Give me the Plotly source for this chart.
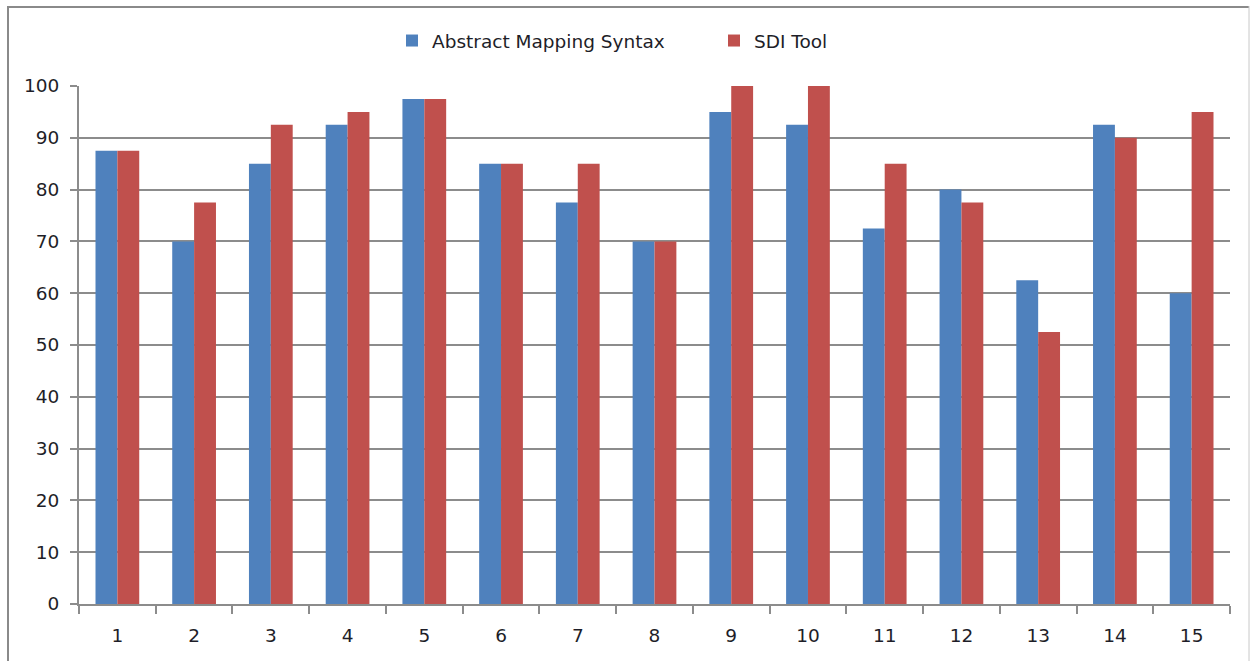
import plotly.graph_objects as go

categories = [str(i) for i in range(1, 16)]
abstract_mapping = [87.5, 70, 85, 92.5, 97.5, 85, 77.5, 70, 95, 92.5, 72.5, 80, 62.5, 92.5, 60]
sdi_tool = [87.5, 77.5, 92.5, 95, 97.5, 85, 85, 70, 100, 100, 85, 77.5, 52.5, 90, 95]
y_ticks = list(range(0, 101, 10))

FONT = "DejaVu Sans, Verdana, sans-serif"
FSIZE = 18.5
GRID = "#8c8c8c"
TEXT = "#1e1e28"

fig = go.Figure()
fig.add_trace(go.Bar(x=categories, y=abstract_mapping, name="Abstract Mapping Syntax",
                     marker=dict(color="#4F81BD", line=dict(width=0))))
fig.add_trace(go.Bar(x=categories, y=sdi_tool, name="SDI Tool",
                     marker=dict(color="#C0504D", line=dict(width=0))))

W, H = 1256, 661
L, R, T, B = 79, 26, 86, 57
pw, ph = W - L - R, H - T - B

def px_x(p):
    return (p - L) / pw

def px_y(p):
    return 1 - (p - T) / ph

fig.update_layout(
    width=W, height=H,
    margin=dict(l=L, r=R, t=T, b=B),
    paper_bgcolor="white", plot_bgcolor="white",
    barmode="group", bargap=0.43, bargroupgap=0,
    font=dict(family=FONT, size=FSIZE, color=TEXT),
    showlegend=True,
    legend=dict(orientation="h", x=px_x(392), xanchor="left", y=px_y(41), yanchor="middle",
                font=dict(size=FSIZE, color=TEXT), itemwidth=30,
                entrywidth=277, entrywidthmode="pixels",
                traceorder="normal", borderwidth=0),
    xaxis=dict(type="category", showgrid=False, showline=True, linecolor=GRID, linewidth=2,
               ticks="outside", tickson="boundaries", ticklen=8, tickcolor=GRID, tickwidth=2,
               tickfont=dict(size=FSIZE), ticklabelstandoff=14, fixedrange=True),
    yaxis=dict(range=[0, 100], tickvals=y_ticks, showgrid=True, gridcolor=GRID, gridwidth=2,
               showline=True, linecolor=GRID, linewidth=2, zeroline=False,
               ticks="outside", ticklen=7, tickcolor=GRID, tickwidth=2,
               tickfont=dict(size=FSIZE), ticklabelstandoff=7, fixedrange=True),
    shapes=[
        dict(type="line", xref="paper", yref="paper", x0=px_x(8), x1=px_x(8),
             y0=px_y(6), y1=px_y(700), line=dict(color="#8a8a8a", width=2)),
        dict(type="line", xref="paper", yref="paper", x0=px_x(7), x1=px_x(1249),
             y0=px_y(7), y1=px_y(7), line=dict(color="#8a8a8a", width=2)),
        dict(type="line", xref="paper", yref="paper", x0=px_x(1249), x1=px_x(1249),
             y0=px_y(6), y1=px_y(700), line=dict(color="#c8c8c8", width=1)),
    ],
)

fig.write_html("out.html")
